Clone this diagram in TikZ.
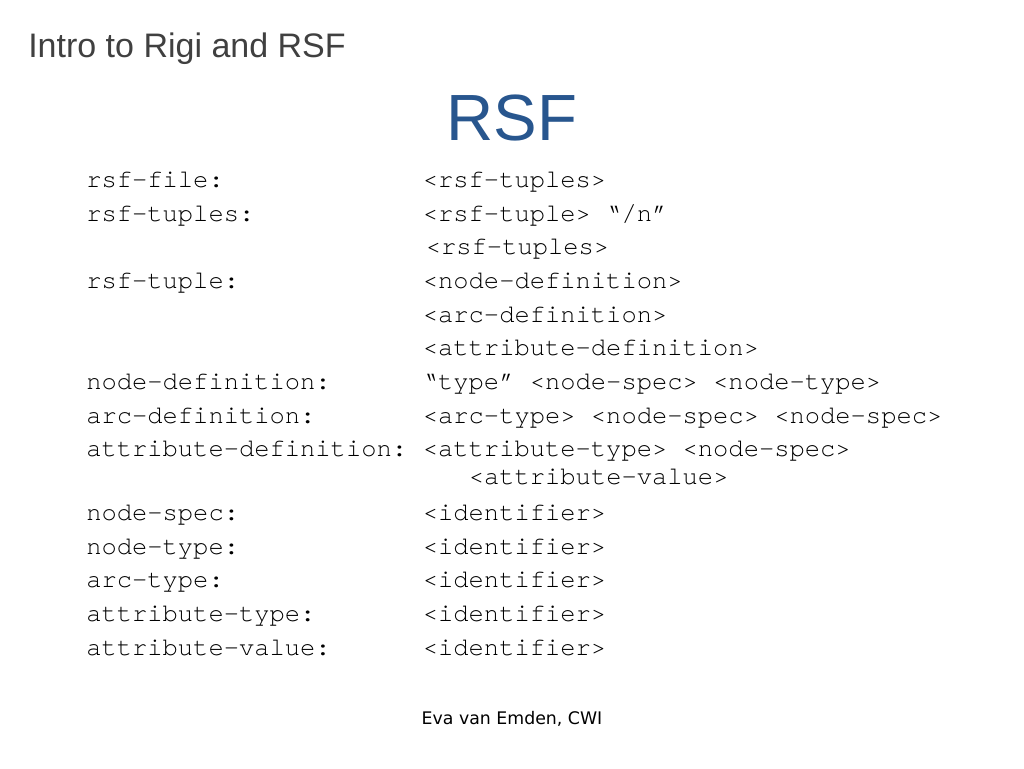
\documentclass[tikz,border=0pt]{standalone}
\usepackage{xcolor}
\usepackage{fontspec}
\usepackage{tikz}
\setmainfont{Liberation Sans}
\setmonofont[Ligatures={NoCommon,NoRequired,NoContextual}]{TeX Gyre Cursor}
\newfontfamily\footfont{DejaVu Sans}
\definecolor{rsfblue}{RGB}{40,86,142}
\definecolor{titlegray}{RGB}{64,64,64}
\tikzset{
  gram/.style={anchor=base west,inner sep=0pt,font=\ttfamily\fontsize{19.1}{23}\selectfont},
}

\begin{document}
\begin{tikzpicture}[x=0.75pt,y=0.75pt,yscale=-1,xscale=1]
        \useasboundingbox (0,0) rectangle (1024,768);

        \draw (28,57) node [anchor=base west][inner sep=0pt][font=\fontsize{25.5}{30}\selectfont,text=titlegray] (slidetitle) {Intro to Rigi and RSF};
        \draw (512,140) node [anchor=base][inner sep=0pt][font=\fontsize{49}{58}\selectfont,text=rsfblue] (rsftitle) {RSF};

        % left column
        \draw (86,187) node [gram] (lfile) {rsf-file:};
        \draw (86,221) node [gram] (ltuples) {rsf-tuples:};
        \draw (86,288) node [gram] (ltuple) {rsf-tuple:};
        \draw (86,389) node [gram] (lnodedef) {node-definition:};
        \draw (86,423) node [gram] (larcdef) {arc-definition:};
        \draw (86,456.5) node [gram] (lattrdef) {attribute-definition:};
        \draw (86,520) node [gram] (lnodespec) {node-spec:};
        \draw (86,554) node [gram] (lnodetype) {node-type:};
        \draw (86,587.5) node [gram] (larctype) {arc-type:};
        \draw (86,621.5) node [gram] (lattrtype) {attribute-type:};
        \draw (86,655) node [gram] (lattrval) {attribute-value:};

        % right column
        \draw (422.6,187) node [gram] (rfile) {<rsf-tuples>};
        \draw (422.6,221) node [gram] (rtuples) {<rsf-tuple> “/n”};
        \draw (425.6,254.5) node [gram] (rtuplesb) {<rsf-tuples>};
        \draw (422.6,288) node [gram] (rtuple) {<node-definition>};
        \draw (422.6,322) node [gram] (rtupleb) {<arc-definition>};
        \draw (422.6,355.5) node [gram] (rtuplec) {<attribute-definition>};
        \draw (422.6,389) node [gram] (rnodedef) {“type” <node-spec> <node-type>};
        \draw (422.6,423) node [gram] (rarcdef) {<arc-type> <node-spec> <node-spec>};
        \draw (422.6,456.5) node [gram] (rattrdef) {<attribute-type> <node-spec>};
        \draw (468.5,484.5) node [gram] (rattrdefb) {<attribute-value>};
        \draw (422.6,520) node [gram] (rnodespec) {<identifier>};
        \draw (422.6,554) node [gram] (rnodetype) {<identifier>};
        \draw (422.6,587.5) node [gram] (rarctype) {<identifier>};
        \draw (422.6,621.5) node [gram] (rattrtype) {<identifier>};
        \draw (422.6,655) node [gram] (rattrval) {<identifier>};

        \draw (512,724) node [anchor=base][inner sep=0pt][font=\footfont\fontsize{13}{16}\selectfont] (footer) {Eva van Emden, CWI};
\end{tikzpicture}
\end{document}
